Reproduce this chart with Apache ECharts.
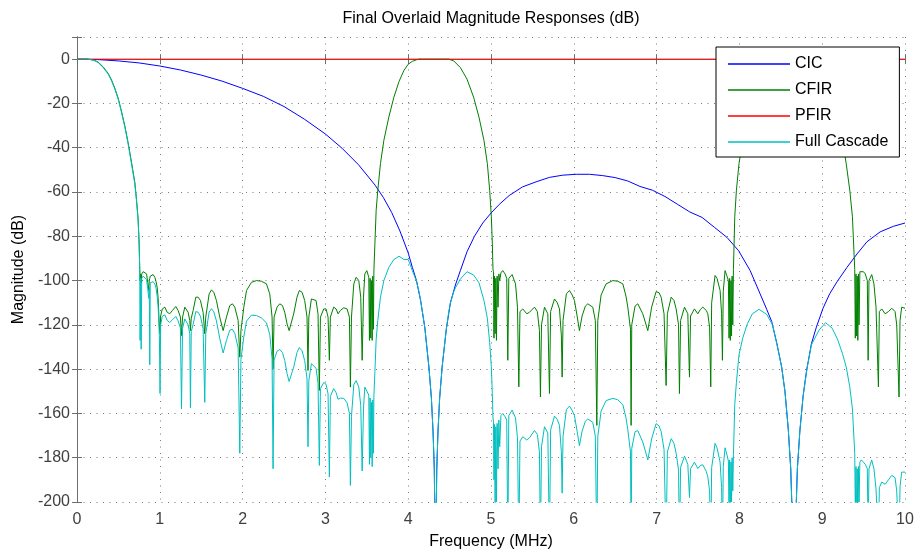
<!DOCTYPE html>
<html>
<head>
<meta charset="utf-8">
<title>Final Overlaid Magnitude Responses (dB)</title>
<script src="https://cdn.jsdelivr.net/npm/echarts@6.0.0/dist/echarts.min.js"></script>
<style>
  html, body { margin: 0; padding: 0; background: #fff; }
  #chart { width: 916px; height: 551px; }
</style>
</head>
<body>
<div id="chart"></div>
<script>
// values (MHz / dB)
const seriesNames = ['CIC', 'CFIR', 'PFIR', 'Full Cascade'];

const cicFreq = [0, 0.25, 0.5, 0.75, 1, 1.25, 1.5, 1.75, 2, 2.25, 2.5, 2.75, 3, 3.2, 3.4, 3.6, 3.7, 3.8, 3.9, 4,
  4.05, 4.1, 4.15, 4.2, 4.25, 4.28, 4.3, 4.315, 4.33, 4.345, 4.36, 4.38, 4.41, 4.46, 4.51, 4.57, 4.63, 4.71, 4.8, 4.9,
  5, 5.1, 5.22, 5.38, 5.545, 5.706, 5.867, 6.03, 6.19, 6.35, 6.5, 6.65, 6.8, 6.95, 7.1, 7.25, 7.4, 7.55, 7.7, 7.85,
  7.99, 8.13, 8.25, 8.33, 8.39, 8.45, 8.51, 8.55, 8.59, 8.62, 8.645, 8.66, 8.675, 8.7, 8.73, 8.77, 8.81, 8.87, 8.93, 9.01,
  9.09, 9.18, 9.3, 9.42, 9.54, 9.7, 9.86, 10];
const cicDb = [0, -0.2, -0.8, -1.7, -3.1, -4.9, -7.2, -9.9, -13.2, -16.8, -21.4, -27.2, -33.8, -40.2, -47.7, -56.9, -62.5, -69.2, -77.6, -87.5,
  -94, -100, -109, -121, -139, -153, -168, -185, -230, -185, -168, -153, -139, -122, -110, -102, -95.5, -87, -80, -74,
  -69.5, -65.6, -61.6, -57.7, -55.4, -53.4, -52.4, -52, -52, -52.6, -53.5, -55, -57.5, -59.2, -62, -65.5, -69, -71.5, -76, -80.5,
  -86.5, -95.5, -106, -113, -118.5, -128, -139, -150, -167, -185, -215, -230, -215, -185, -168, -152, -141, -128.5, -121, -112.5,
  -106, -100.5, -94, -88, -82.5, -78, -75.5, -74];

const pfirFreq = [0, 10];
const pfirDb = [0, 0];

// CFIR and full cascade share the same frequency points
const filtFreq = [
  0, 0.13, 0.2, 0.255, 0.316, 0.376, 0.417, 0.457, 0.497, 0.537, 0.578, 0.617, 0.658, 0.698, 0.718, 0.738, 0.75,
  0.758, 0.762, 0.768, 0.775, 0.782, 0.79, 0.8, 0.819, 0.84, 0.855, 0.867, 0.873, 0.879, 0.885, 0.9, 0.919, 0.94, 0.955, 0.968, 0.98, 0.995, 1.003, 1.01,
  1.03, 1.061, 1.089, 1.12, 1.153, 1.193, 1.221, 1.249, 1.262, 1.275, 1.302, 1.322, 1.342, 1.362, 1.37, 1.38, 1.403, 1.435, 1.463, 1.491,
  1.523, 1.543, 1.555, 1.596, 1.624, 1.652, 1.684, 1.724, 1.765, 1.805, 1.845, 1.877, 1.906, 1.946, 1.966, 1.98, 2.015, 2.047, 2.107, 2.167,
  2.228, 2.288, 2.328, 2.356, 2.368, 2.38, 2.416, 2.449, 2.481, 2.509, 2.537, 2.562,
  2.617, 2.657, 2.685, 2.718, 2.75, 2.778, 2.79, 2.8, 2.831, 2.855, 2.887, 2.911, 2.927, 2.94, 2.98, 3.008, 3.032, 3.048, 3.06, 3.1,
  3.129, 3.153, 3.181, 3.222, 3.262, 3.29, 3.302, 3.315, 3.343, 3.371, 3.403, 3.427, 3.444, 3.46, 3.476, 3.5, 3.524,
  3.532, 3.54, 3.548, 3.556, 3.565, 3.572, 3.58,
  3.586, 3.598, 3.613, 3.633, 3.665, 3.706, 3.766, 3.827, 3.89, 3.95, 4, 4.05, 4.1, 4.13, 4.15, 4.2, 4.25, 4.28, 4.3, 4.315,
  4.33, 4.345, 4.36, 4.38, 4.41, 4.46, 4.49, 4.51, 4.55, 4.57, 4.63, 4.71, 4.79, 4.855, 4.915, 4.956, 4.984, 5.004, 5.016, 5.024,
  5.03, 5.036, 5.042, 5.05, 5.058, 5.066, 5.074, 5.085, 5.095, 5.105, 5.12,
  5.142, 5.17, 5.19, 5.203, 5.215, 5.255, 5.296, 5.32, 5.336, 5.35, 5.384, 5.432, 5.465, 5.525, 5.56, 5.585, 5.597, 5.61, 5.646, 5.686,
  5.706, 5.72, 5.767, 5.8, 5.827, 5.85, 5.859, 5.87, 5.91, 5.948, 5.98, 6.008, 6.04, 6.068, 6.1, 6.14, 6.169, 6.229, 6.26, 6.278,
  6.29, 6.33, 6.39, 6.471, 6.53, 6.592, 6.63, 6.652, 6.685, 6.692, 6.7, 6.74, 6.773, 6.833, 6.894, 6.94, 6.994, 7.03, 7.055, 7.09,
  7.115, 7.13, 7.176, 7.21, 7.236, 7.265, 7.276, 7.29, 7.337, 7.377, 7.397, 7.41, 7.457, 7.498, 7.53, 7.558, 7.6, 7.618, 7.64, 7.654,
  7.665, 7.706, 7.73, 7.767, 7.785, 7.795, 7.805, 7.827, 7.85, 7.867, 7.875, 7.882, 7.89, 7.898, 7.905, 7.912, 7.92,
  7.928, 7.944, 7.964, 7.995, 8.04, 8.096, 8.157, 8.237, 8.33, 8.4, 8.46, 8.51, 8.55, 8.59, 8.62, 8.645, 8.66, 8.675, 8.7, 8.73,
  8.77, 8.82, 8.87, 8.96, 9.04, 9.12, 9.185, 9.245, 9.29, 9.333, 9.365, 9.393,
  9.4, 9.408, 9.415, 9.423, 9.43, 9.438, 9.445, 9.455, 9.472, 9.498, 9.52, 9.545, 9.555, 9.565, 9.598, 9.625, 9.65, 9.679, 9.69, 9.719,
  9.76, 9.8, 9.84, 9.88, 9.9, 9.928, 9.94, 9.96, 10
];
const cfirDb = [
  0, 0, -0.4, -1.3, -3.5, -6.4, -9.4, -13.1, -17.6, -23.5, -30.2, -37.6, -46.5, -55.5, -63, -72, -82.5,
  -95, -100, -97, -101, -97, -96.5, -96, -95.5, -97, -101, -104.5, -100, -99, -98, -97.3, -97.3, -98.5, -100.5, -103, -108, -121, -124, -116,
  -112.8, -112, -114.3, -115, -113.5, -111.7, -113.5, -116.5, -124.8, -116.5, -112, -111.7, -114.3, -118, -122.6, -117, -113.5, -107.5, -107.5, -109,
  -114.3, -124, -116.5, -106, -104.2, -105.3, -109, -116.5, -122.6, -116.5, -111.3, -110.5, -112, -118, -134.6, -122.6, -112, -104.5, -100.8, -100,
  -100.3, -101.5, -106, -116.5, -139.9, -116.5, -112, -110.5, -111.3, -114.3, -119.6, -122.6,
  -115, -107.5, -104.5, -105.3, -109, -116.5, -140.6, -116.5, -108.3, -107.5, -109, -115, -149.6, -116.5, -112.8, -112.8, -116.5, -136, -116.5, -112,
  -112.8, -115, -113.5, -112.3, -112.8, -116.5, -148.1, -116.5, -101.5, -98.5, -100, -107.5, -136, -107.5, -97, -95.5, -98.5,
  -127, -99, -126, -100, -127, -98, -122,
  -95.1, -83.1, -68.2, -59.2, -47.2, -36.7, -26.2, -17.2, -10, -5, -2.3, -1, -0.3, 0, 0, 0, 0, 0, 0, 0,
  0, 0, 0, 0, 0, 0, 0, -0.2, -0.8, -1.3, -3.8, -9, -17.2, -26.2, -36.7, -47.2, -59.2, -71.2, -83.1, -95,
  -96, -126, -98, -124, -99, -127, -98, -112, -97, -100, -96.5,
  -95.5, -97, -99, -136, -99, -97.3, -101.5, -112, -148, -114, -112.8, -115, -114.3, -112, -114, -122.6, -152.6, -120, -112, -115,
  -151, -114, -108.3, -110, -112.8, -125, -143.6, -118, -106, -104.5, -106.5, -109, -116, -122.6, -116, -111.5, -110.5, -112, -118, -165.4,
  -118, -106.5, -101.5, -100, -100.3, -101.5, -107, -112, -122, -165.4, -120, -111.5, -110.5, -115, -122.6, -112, -105, -105.5, -107.5, -115,
  -147.4, -115, -107.5, -109, -112.8, -120, -151, -118, -112, -115, -143.6, -116, -112.8, -115, -113, -112, -113.5, -115, -121, -148,
  -110, -97.7, -99, -104.5, -115, -136, -105, -95.5, -98, -100, -126, -99, -127, -100, -125, -98, -120,
  -95, -71.2, -59.2, -47.2, -36.7, -26.2, -17.2, -8.3, -2.3, -0.5, 0, 0, 0, 0, 0, 0, 0, 0, 0, 0,
  0, 0, -0.6, -3.8, -9, -17.2, -26.2, -36.7, -47.2, -59.2, -71.2, -95,
  -126, -97, -125, -98, -127, -97, -120, -96, -95.5, -96, -97, -100, -136, -100, -97.3, -101.5, -112, -148, -114, -112.8,
  -115, -114, -112.5, -114, -120, -152.6, -118, -112, -112.5
];
const cascadeDb = [
  0, 0, -0.5, -1.5, -3.8, -6.7, -9.8, -13.5, -18, -24, -30.7, -38.2, -47.2, -56.2, -63.7, -72.7, -83.1,
  -96, -127, -99, -131, -99, -98.5, -98, -98, -99.5, -104, -108, -103, -138, -101, -100.3, -100.5, -101.5, -103.5, -107, -112, -125, -151, -120,
  -116.1, -115.5, -118, -118.9, -117.7, -116.2, -118.2, -121.4, -158, -121.6, -117.3, -117.2, -120, -124, -157.4, -123, -119.7, -114, -114.3, -116.1,
  -121.7, -155, -124.1, -114.2, -112.7, -114.1, -118.2, -126.1, -132.7, -127, -122.4, -122, -123.9, -130.4, -178, -135.6, -125.4, -118.3, -115.6, -115.8,
  -116.9, -119.1, -124.3, -135.3, -185, -135.9, -131.9, -131.1, -132.5, -136.1, -142, -145.6,
  -139.1, -132.5, -130.2, -131.7, -136.2, -144.4, -175, -145.1, -137.5, -137.3, -139.6, -146.3, -183.5, -148.8, -146, -146.8, -151.2, -188.7, -152.3, -148.8,
  -150.6, -153.6, -153.1, -153.2, -155.2, -160, -192.5, -161.3, -147, -145.2, -148, -156.5, -186, -157.9, -148.1, -147.7, -151.7,
  -183, -153, -180, -155, -184, -154, -178,
  -152, -141, -126.5, -118, -107.5, -100, -94, -90.5, -89, -90.5, -90.5, -95.5, -100.3, -105, -109, -121, -139, -153, -168, -185,
  -230, -185, -168, -153, -139, -122, -114, -110.2, -105, -103.3, -99.3, -96, -97.5, -101, -109, -117, -128, -139, -151, -162,
  -163.5, -190, -165, -205, -166, -200, -164.5, -185, -163, -175, -161,
  -160, -161.5, -163, -220, -161, -158.5, -162, -171, -220, -172.5, -170.5, -172, -171, -167.7, -169.5, -177.5, -220, -175, -166, -168.8,
  -220, -167.5, -161.2, -162.7, -165.4, -177.5, -196, -170.4, -158.3, -156.7, -158.6, -161, -168, -174.6, -168, -163.5, -162.5, -164, -170.2, -220,
  -170.4, -158.9, -154.2, -153.2, -153.8, -156, -161.9, -167.2, -177.6, -220, -175.8, -168.2, -167.8, -172.9, -181, -171.5, -164.6, -165.7, -168.2, -176.3,
  -220, -177.4, -171.4, -173.5, -178, -185.6, -220, -184.3, -179.3, -183, -198, -185, -182, -184.9, -183.5, -183.2, -186.2, -188.5, -195, -220,
  -184.5, -173.5, -175.5, -182, -193.5, -220, -184, -175.5, -178.8, -181.5, -205, -181, -210, -182, -200, -180, -195,
  -178.5, -156, -146, -133.5, -126, -119.5, -115, -113, -115.3, -120, -130, -139, -150, -167, -185, -215, -230, -215, -185, -168,
  -152, -139, -129, -122.5, -119, -121.5, -126.5, -133, -139, -148, -158, -178,
  -205, -184, -210, -185, -208, -184, -200, -182, -181, -182, -183, -185, -215, -185, -181, -185, -194, -220, -193.5, -191,
  -192, -190, -188, -189, -195, -220, -193, -186.5, -186.5
];

function pairs(xs, ys) {
  return xs.map(function (x, i) { return [x, ys[i]]; });
}

const font = '"Liberation Sans", Arial, Helvetica, sans-serif';
const axisGray = '#6e6e6e';
const gridDots = { color: '#7a7a7a', width: 1, type: [1, 5.5] };

function lineSeries(name, color, data) {
  return {
    name: name,
    type: 'line',
    data: data,
    symbol: 'none',
    showSymbol: false,
    color: color,
    lineStyle: { color: color, width: 1 },
    clip: true,
    silent: true,
    animation: false
  };
}

const chart = echarts.init(document.getElementById('chart'), null, { renderer: 'canvas' });
chart.setOption({
  backgroundColor: '#fff',
  animation: false,
  title: {
    text: 'Final Overlaid Magnitude Responses (dB)',
    left: 491,
    top: 11,
    padding: 0,
    textAlign: 'center',
    textStyle: { color: '#000', fontSize: 16, fontWeight: 'normal', fontFamily: font }
  },
  grid: { left: 77, right: 11, top: 37, bottom: 49, show: false, containLabel: false, outerBoundsMode: 'none' },
  legend: {
    data: seriesNames,
    orient: 'vertical',
    left: 716,
    top: 47,
    padding: [9, 11, 7, 12],
    itemWidth: 62,
    itemHeight: 14,
    itemGap: 10,
    icon: 'path://M0,0H62V1.4H0Z',
    symbolKeepAspect: true,
    backgroundColor: '#fff',
    borderColor: '#000',
    borderWidth: 1,
    selectedMode: false,
    textStyle: { color: '#000', fontSize: 16, fontFamily: font }
  },
  xAxis: [{
    type: 'value', min: 0, max: 10, interval: 1, position: 'bottom',
    name: 'Frequency (MHz)', nameLocation: 'middle', nameGap: 32,
    nameTextStyle: { color: '#000', fontSize: 16, fontFamily: font },
    axisLine: { show: true, lineStyle: { color: axisGray } },
    axisTick: { show: true, inside: true, length: 5, lineStyle: { color: axisGray } },
    axisLabel: { color: '#404040', fontSize: 16, fontFamily: font, margin: 10 },
    splitLine: { show: true, lineStyle: gridDots }
  }, {
    type: 'value', min: 0, max: 10, interval: 1, position: 'top',
    axisLine: { show: true, lineStyle: { color: axisGray } },
    axisTick: { show: true, inside: true, length: 5, lineStyle: { color: axisGray } },
    axisLabel: { show: false },
    splitLine: { show: false }
  }],
  yAxis: [{
    type: 'value', min: -200, max: 10, interval: 20, position: 'left',
    name: 'Magnitude (dB)', nameLocation: 'middle', nameGap: 44, nameRotate: 90,
    nameTextStyle: { color: '#000', fontSize: 16, fontFamily: font },
    axisLine: { show: true, lineStyle: { color: axisGray } },
    axisTick: { show: true, inside: true, length: 5, lineStyle: { color: axisGray } },
    axisLabel: {
      color: '#404040', fontSize: 16, fontFamily: font, margin: 7,
      formatter: function (v) { return v % 20 === 0 ? String(v) : ''; }
    },
    splitLine: { show: true, lineStyle: gridDots }
  }, {
    type: 'value', min: -200, max: 10, interval: 20, position: 'right',
    axisLine: { show: true, lineStyle: { color: axisGray } },
    axisTick: { show: true, inside: true, length: 5, lineStyle: { color: axisGray } },
    axisLabel: { show: false },
    splitLine: { show: false }
  }],
  series: [
    lineSeries('CIC', '#0000ff', pairs(cicFreq, cicDb)),
    lineSeries('CFIR', '#008000', pairs(filtFreq, cfirDb)),
    lineSeries('PFIR', '#ff0000', pairs(pfirFreq, pfirDb)),
    lineSeries('Full Cascade', '#00bfbf', pairs(filtFreq, cascadeDb))
  ]
});
</script>
</body>
</html>
